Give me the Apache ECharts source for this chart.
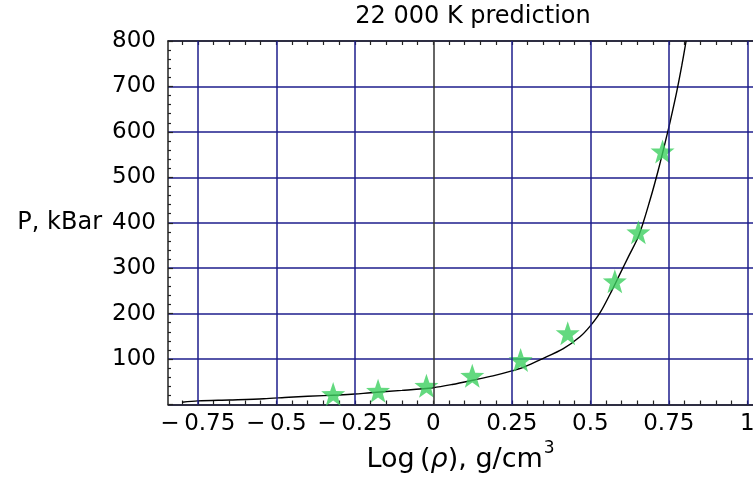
<!DOCTYPE html>
<html>
<head>
<meta charset="utf-8">
<script src="https://cdn.jsdelivr.net/npm/echarts@6/dist/echarts.min.js"></script>
<style>
html,body{margin:0;padding:0;background:#fff;}
#c{width:753px;height:481px;}
</style>
</head>
<body>
<div id="c"></div>
<script>
// ---- data ----
var titleText = "22 000 K prediction";
var yName = "P, kBar";
// measured points (log rho, P kBar)
var starX = [-0.319, -0.176, -0.022, 0.124, 0.278, 0.428, 0.578, 0.653, 0.730];
var starY = [23, 30, 41, 63, 98, 157, 271, 379, 557];
// prediction curve
var curveX = [-0.80, -0.75, -0.65, -0.54, -0.46, -0.40, -0.30, -0.25, -0.20, -0.10, 0.00, 0.06, 0.13, 0.19, 0.25, 0.29, 0.345, 0.414, 0.467, 0.50, 0.531, 0.568, 0.594, 0.621, 0.655, 0.69, 0.716, 0.743, 0.754, 0.775, 0.791, 0.805];
var curveY = [5, 8, 10, 12.5, 16, 18, 21, 23, 26, 31, 37, 44, 54, 63, 74, 83, 100, 123, 149, 173, 202, 250, 287, 325, 373, 450, 515, 590, 622, 688, 745, 800];
// axes
var xMin = -0.845, xMax = 1.018;
var xMajor = [-0.75, -0.5, -0.25, 0, 0.25, 0.5, 0.75, 1];
var xMinor = [];
for (var i = -16; i <= 20; i++) xMinor.push(+(i * 0.05).toFixed(2));
var yMin = 0, yMax = 800, yStep = 100;

var navy = '#1e1e8c';
var font = 'DejaVu Sans';

function fmtX(v) {
  if (v === 0) return '0';
  var s = String(Math.abs(v));
  return (v < 0 ? '\u2212\u2009' : '') + s;
}

var gridLines = xMajor.map(function (v) {
  return { xAxis: v, lineStyle: { color: v === 0 ? '#333333' : navy } };
});

var chart = echarts.init(document.getElementById('c'), null, { renderer: 'canvas' });
chart.setOption({
  backgroundColor: '#ffffff',
  animation: false,
  title: {
    text: titleText, left: 468, top: 0, textAlign: 'center',
    textStyle: { fontFamily: font, fontSize: 24, fontWeight: 'normal', color: '#000' }
  },
  grid: { left: 168, top: 41, right: 0, bottom: 76.5, containLabel: false, outerBoundsMode: 'none' },
  xAxis: [{
    type: 'value', min: xMin, max: xMax, position: 'bottom',
    name: '{a|Log\u2009(}{i|\u03c1}{a|), g/cm}{s|3}',
    nameLocation: 'middle', nameGap: 36,
    nameTextStyle: {
      rich: {
        a: { fontFamily: font, fontSize: 27, color: '#000', verticalAlign: 'bottom' },
        i: { fontFamily: font, fontSize: 27, fontStyle: 'italic', color: '#000', verticalAlign: 'bottom' },
        s: { fontFamily: font, fontSize: 17, color: '#000', verticalAlign: 'top', padding: [0, 0, 16, 1] }
      }
    },
    axisLine: { show: true, onZero: false, lineStyle: { color: '#222', width: 1.5 } },
    axisTick: { show: true, inside: true, length: 4, customValues: xMinor, lineStyle: { color: '#222', width: 1.2 } },
    axisLabel: { show: true, customValues: xMajor, formatter: fmtX, margin: 8, fontFamily: font, fontSize: 23, color: '#000' },
    splitLine: { show: false }
  }, {
    type: 'value', min: xMin, max: xMax, position: 'top',
    axisLine: { show: true, onZero: false, lineStyle: { color: '#222', width: 1.5 } },
    axisTick: { show: true, inside: true, length: 4, customValues: xMinor, lineStyle: { color: '#222', width: 1.2 } },
    axisLabel: { show: false },
    splitLine: { show: false }
  }],
  yAxis: {
    type: 'value', min: yMin, max: yMax, interval: yStep,
    name: yName, nameLocation: 'middle', nameRotate: 0, nameGap: 66,
    nameTextStyle: { fontFamily: font, fontSize: 24, color: '#000', align: 'right', verticalAlign: 'middle' },
    axisLine: { show: true, onZero: false, lineStyle: { color: '#222', width: 1.5 } },
    axisTick: { show: true, inside: true, length: 5, lineStyle: { color: '#222', width: 1.2 } },
    minorTick: { show: true, splitNumber: 5, length: 3, lineStyle: { color: '#222', width: 1.2 } },
    axisLabel: { formatter: function (v) { return v === 0 ? '' : String(v); }, margin: 12, fontFamily: font, fontSize: 23, color: '#000' },
    splitLine: { show: true, lineStyle: { color: navy, width: 1.5 } }
  },
  series: [{
    type: 'line', data: [], z: 1, silent: true,
    markLine: { silent: true, symbol: 'none', label: { show: false }, lineStyle: { type: 'solid', width: 1.5 }, data: gridLines, animation: false }
  }, {
    type: 'line', z: 3, showSymbol: false, symbol: 'none', clip: true,
    smooth: 0.3,
    lineStyle: { color: '#000', width: 1.4 },
    data: curveX.map(function (x, i) { return [x, curveY[i]]; })
  }, {
    type: 'scatter', z: 4, clip: true,
    symbol: 'path://M0,-10 L2.35,-3.24 9.51,-3.09 3.8,1.24 5.88,8.09 0,4 -5.88,8.09 -3.8,1.24 -9.51,-3.09 -2.35,-3.24 Z',
    symbolSize: 24,
    itemStyle: { color: '#3ccf5f' },
    data: starX.map(function (x, i) { return [x, starY[i]]; })
  }]
});
</script>
</body>
</html>
